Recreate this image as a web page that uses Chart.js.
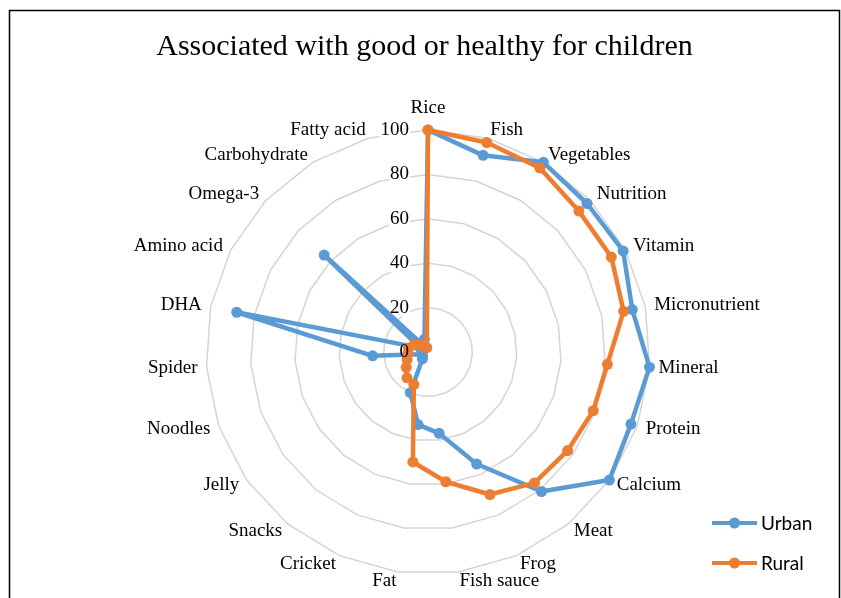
<!DOCTYPE html>
<html>
<head>
<meta charset="utf-8">
<script src="https://cdn.jsdelivr.net/npm/chart.js@4"></script>
<style>
  html, body { margin: 0; padding: 0; background: #fff; }
  #wrap { position: relative; width: 841px; height: 598px; }
</style>
</head>
<body>
<div id="wrap"><canvas id="c" width="841" height="598"></canvas></div>
<script>
const titleText = "Associated with good or healthy for children";
const categories = ["Rice", "Fish", "Vegetables", "Nutrition", "Vitamin", "Micronutrient", "Mineral", "Protein", "Calcium", "Meat", "Frog", "Fish sauce", "Fat", "Cricket", "Snacks", "Jelly", "Noodles", "Spider", "DHA", "Amino acid", "Omega-3", "Carbohydrate", "Fatty acid"];
const urban = [100, 92, 100, 98, 99, 94, 100, 97, 100, 81, 55, 37, 33, 20, 4, 3, 3, 25, 88, 4, 64, 3, 6];
const rural = [100, 98, 97, 93, 93, 90, 81, 79, 77, 76, 70, 59, 50, 16, 15, 12, 10, 9, 9, 7, 5, 3, 2];
const tickValues = [0, 20, 40, 60, 80, 100];
const seriesNames = ["Urban", "Rural"];
const seriesColors = ["#5B9BD5", "#ED7D31"];

const serif = "'Liberation Serif', 'Times New Roman', serif";
const sans = "Lato, 'Liberation Sans', sans-serif";

const decor = {
  id: 'decor',
  beforeDatasetsDraw(chart) {
    const ctx = chart.ctx, s = chart.scales.r;
    ctx.save();
    ctx.font = "19px " + serif;
    ctx.fillStyle = "#fff";
    tickValues.forEach(v => {
      const t = String(v);
      const w = ctx.measureText(t).width;
      const y = s.yCenter - s.getDistanceFromCenterForValue(v);
      ctx.fillRect(s.xCenter - 19 - w - 1, y - 9, w + 2, 18);
    });
    ctx.restore();
  },
  afterDatasetsDraw(chart) {
    const ctx = chart.ctx, s = chart.scales.r;
    ctx.save();
    // tick labels
    ctx.font = "19px " + serif;
    ctx.fillStyle = "#000";
    ctx.textAlign = "right";
    ctx.textBaseline = "middle";
    tickValues.forEach(v => {
      const y = s.yCenter - s.getDistanceFromCenterForValue(v);
      ctx.fillText(String(v), s.xCenter - 19, y);
    });
    // category labels
    const n = categories.length;
    categories.forEach((lab, i) => {
      const p = s.getPointPosition(i, s.drawingArea + 9);
      const ang = i * 360 / n;
      let align = "left";
      if (ang === 0) align = "center";
      else if (ang > 180) align = "right";
      let y = p.y;
      if (i === 0) y -= 13;
      ctx.textAlign = align;
      ctx.fillText(lab, p.x, y);
    });
    // title
    ctx.font = "30px " + serif;
    ctx.textAlign = "center";
    ctx.textBaseline = "alphabetic";
    ctx.fillText(titleText, 424.5, 55);
    // legend
    chart.data.datasets.forEach((ds, k) => {
      const y = 523 + k * 40;
      ctx.strokeStyle = ds.borderColor;
      ctx.lineWidth = 4;
      ctx.beginPath();
      ctx.moveTo(712, y);
      ctx.lineTo(757, y);
      ctx.stroke();
      ctx.fillStyle = ds.backgroundColor;
      ctx.beginPath();
      ctx.arc(734.5, y, 5.5, 0, Math.PI * 2);
      ctx.fill();
      ctx.fillStyle = "#000";
      ctx.font = "19px " + sans;
      ctx.textAlign = "left";
      ctx.textBaseline = "middle";
      ctx.fillText(ds.label, 761, y + 1);
    });
    // frame
    ctx.strokeStyle = "#000";
    ctx.lineWidth = 1.5;
    ctx.strokeRect(9.5, 10.5, 830, 620);
    ctx.restore();
  }
};

new Chart(document.getElementById('c'), {
  type: 'radar',
  data: {
    labels: categories,
    datasets: [
      { label: seriesNames[0], data: urban, order: 2, borderColor: seriesColors[0], backgroundColor: seriesColors[0],
        pointBackgroundColor: seriesColors[0], pointBorderColor: seriesColors[0], borderWidth: 4.5,
        pointRadius: 5.5, pointBorderWidth: 0, fill: false, tension: 0, clip: false },
      { label: seriesNames[1], data: rural, order: 1, borderColor: seriesColors[1], backgroundColor: seriesColors[1],
        pointBackgroundColor: seriesColors[1], pointBorderColor: seriesColors[1], borderWidth: 4.5,
        pointRadius: 5.5, pointBorderWidth: 0, fill: false, tension: 0, clip: false }
    ]
  },
  options: {
    responsive: false,
    animation: false,
    devicePixelRatio: 1,
    layout: { padding: { left: 206, right: 191, top: 130, bottom: 24 } },
    plugins: { legend: { display: false }, title: { display: false }, tooltip: { enabled: false } },
    elements: { line: { borderJoinStyle: 'round' } },
    scales: {
      r: {
        min: 0, max: 100,
        ticks: { display: false, stepSize: 20 },
        pointLabels: { display: false },
        angleLines: { display: false },
        grid: { color: '#d4d4d4', lineWidth: 1.5, circular: false }
      }
    }
  },
  plugins: [decor]
});
</script>
</body>
</html>
